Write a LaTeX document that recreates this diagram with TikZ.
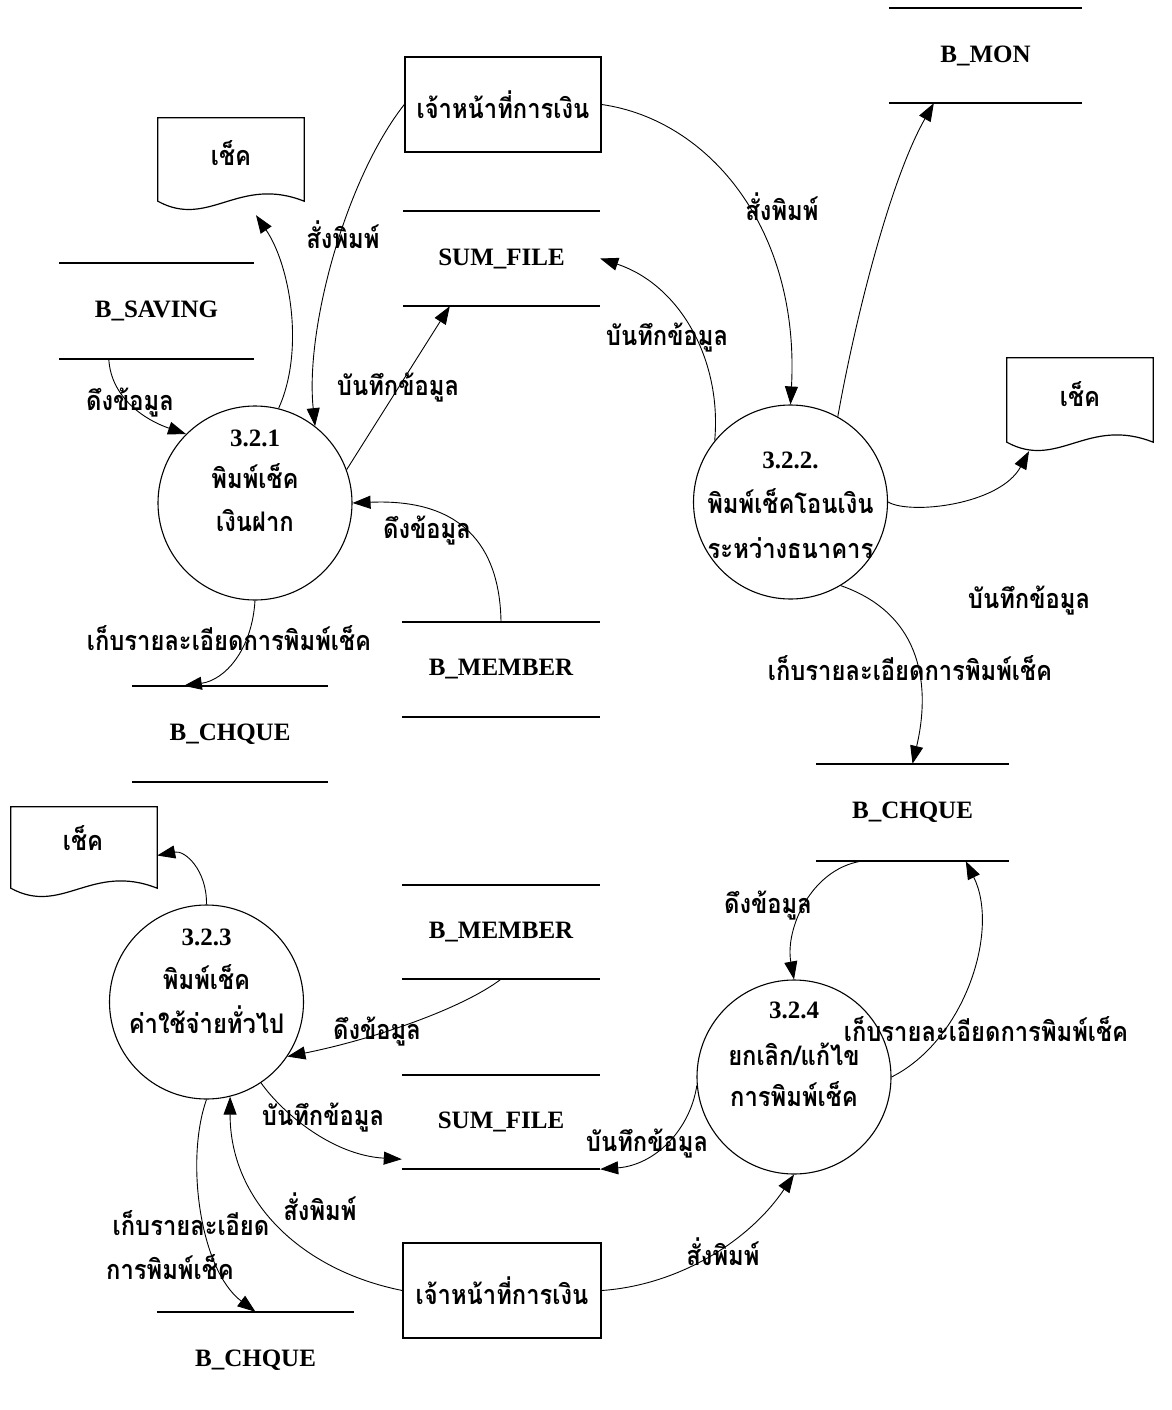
\documentclass[tikz,border=0pt]{standalone}
\usepackage{fontspec}
\setmainfont{Liberation Serif}
\newfontfamily\thai[Script=Thai, FakeStretch=0.88]{Loma}
\usetikzlibrary{arrows.meta}
% document symbol: box with a wavy lower edge, drawn round a named node
\newcommand\drawdoc[1]{\draw[line width=1.2pt] (#1.south west) -- (#1.north west) -- (#1.north east) -- (#1.south east) .. controls +(-65.7,-26) and +(51.1,28) .. (#1.south west) -- cycle;}
\begin{document}
\begin{tikzpicture}[x=1pt,y=-1pt,
  th/.style={font=\fontsize{27}{30}\selectfont\thai\bfseries, anchor=base, inner sep=0},
  la/.style={font=\fontsize{25}{28}\selectfont\bfseries, anchor=base, inner sep=0},
  proc/.style={circle, draw, line width=1.1pt, minimum size=194pt, inner sep=0},
  ent/.style={rectangle, draw, line width=1.4pt, inner sep=0, font=\fontsize{27}{30}\selectfont\thai\bfseries},
  store/.style={inner sep=0, font=\fontsize{25}{28}\selectfont\bfseries},
  stline/.style={line width=1.8pt},
  docbox/.style={inner sep=0},
  flow/.style={line width=0.9pt, -{Triangle[length=18pt,width=13pt]}},
]
\fill[white] (0,0) rectangle (1171,1410);
\useasboundingbox (0,0) rectangle (1171,1410);

% external entities
\node[ent, minimum width=196pt, minimum height=95pt] (ent1) at (503,104.5) {เจ้าหน้าที่การเงิน};
\node[ent, minimum width=198pt, minimum height=95pt] (ent2) at (502,1290.5) {เจ้าหน้าที่การเงิน};

% documents
\node[docbox, minimum width=146pt, minimum height=83pt] (doc1) at (231,159.5) {};
\node[docbox, minimum width=146pt, minimum height=84pt] (doc2) at (1080,400) {};
\node[docbox, minimum width=146pt, minimum height=81pt] (doc3) at (84,847.5) {};
\drawdoc{doc1}\drawdoc{doc2}\drawdoc{doc3}
\node[th] (doc1t) at (231,165) {เช็ค};
\node[th] (doc2t) at (1080,406) {เช็ค};
\node[th] (doc3t) at (83,850) {เช็ค};

% data stores
\node[store, minimum width=193pt, minimum height=95pt] (smon) at (985.5,55.5) {B\_MON};
\node[store, minimum width=195pt, minimum height=96pt] (ssav) at (156.5,311) {B\_SAVING};
\node[store, minimum width=197pt, minimum height=95pt] (ssumt) at (501.5,258.5) {SUM\_FILE};
\node[store, minimum width=198pt, minimum height=95pt] (smem1) at (501,669.5) {B\_MEMBER};
\node[store, minimum width=196pt, minimum height=96pt] (schq1) at (230,734) {B\_CHQUE};
\node[store, minimum width=193pt, minimum height=97pt] (schq2) at (912.5,812.5) {B\_CHQUE};
\node[store, minimum width=198pt, minimum height=94pt] (smem2) at (501,932) {B\_MEMBER};
\node[store, minimum width=198pt, minimum height=94pt] (ssumb) at (501,1122) {SUM\_FILE};
\node[store, minimum width=197pt, minimum height=96pt] (schq3) at (255.5,1360) {B\_CHQUE};
\foreach \s in {smon,ssav,ssumt,smem1,schq1,schq2,smem2,ssumb}
  \draw[stline] (\s.north west) -- (\s.north east) (\s.south west) -- (\s.south east);
\draw[stline] (schq3.north west) -- (schq3.north east);

% processes
\node[proc] (p1) at (255,503) {};
\node[proc] (p2) at (790.5,502) {};
\node[proc] (p3) at (206.5,1002) {};
\node[proc] (p4) at (794,1077) {};
\node[la] (p1a) at (255,446) {3.2.1};
\node[th] (p1b) at (255,488) {พิมพ์เช็ค};
\node[th] (p1c) at (255,531) {เงินฝาก};
\node[la] (p2a) at (790.5,468) {3.2.2.};
\node[th] (p2b) at (790.5,513) {พิมพ์เช็คโอนเงิน};
\node[th] (p2c) at (790.5,558) {ระหว่างธนาคาร};
\node[la] (p3a) at (206.5,945) {3.2.3};
\node[th] (p3b) at (206.5,989) {พิมพ์เช็ค};
\node[th] (p3c) at (206.5,1033) {ค่าใช้จ่ายทั่วไป};
\node[la] (p4a) at (794,1018) {3.2.4};
\node[th] (p4b) at (794,1065) {ยกเลิก/แก้ไข};
\node[th] (p4c) at (794,1106) {การพิมพ์เช็ค};

% flows of process 3.2.1
\draw[flow] ([xshift=50pt]ssav.south west) .. controls (111,398) and (145,420) .. (p1.135);
\draw[flow] (p1.76) .. controls (305,350) and (290,265) .. ([xshift=25pt,yshift=-14pt]doc1.south);
\draw[flow] (ent1.west) .. controls (345,180) and (305,330) .. (p1.52);
\draw[flow] (p1.20) -- ([xshift=47pt]ssumt.south west);
\draw[flow] (smem1.north) .. controls (500,555) and (470,498) .. (p1.east);
\draw[flow] (p1.south) .. controls (252,650) and (225,680) .. ([xshift=52pt]schq1.north west);

% flows of process 3.2.2
\draw[flow] (ent1.east) .. controls (710,120) and (800,230) .. (p2.north);
\draw[flow] (p2.61) .. controls (855,320) and (890,180) .. ([xshift=45pt]smon.south west);
\draw[flow] (p2.141) .. controls (722,360) and (680,285) .. (ssumt.east);
\draw[flow] (p2.east) .. controls (910,515) and (1000,505) .. ([xshift=-51pt,yshift=-9pt]doc2.south);
\draw[flow] (p2.301) .. controls (925,615) and (930,690) .. (schq2.north);

% flows of process 3.2.4
\draw[flow] ([xshift=45pt]schq2.south west) .. controls (810,870) and (785,930) .. (p4.north);
\draw[flow] (p4.east) .. controls (965,1040) and (1000,930) .. ([xshift=150pt]schq2.south west);
\draw[flow] (p4.185) .. controls (690,1130) and (655,1165) .. (ssumb.south east);
\draw[flow] (ent2.east) .. controls (680,1285) and (750,1240) .. (p4.south);

% flows of process 3.2.3
\draw[flow] (smem2.south) .. controls (460,1010) and (370,1040) .. (p3.-34);
\draw[flow] (p3.-56) .. controls (280,1110) and (330,1155) .. ([yshift=10pt]ssumb.south west);
\draw[flow] (ent2.west) .. controls (300,1270) and (230,1200) .. (p3.-76);
\draw[flow] (p3.south) .. controls (185,1160) and (200,1270) .. (schq3.north);
\draw[flow] (p3.north) .. controls (207,870) and (185,850) .. ([yshift=-8pt]doc3.east);

% flow labels
\node[th] (l1) at (130,410) {ดึงข้อมูล};
\node[th] (l2) at (343,248) {สั่งพิมพ์};
\node[th] (l3) at (398,395) {บันทึกข้อมูล};
\node[th] (l4) at (427,538) {ดึงข้อมูล};
\node[th] (l5) at (229,650) {เก็บรายละเอียดการพิมพ์เช็ค};
\node[th] (l6) at (782,220) {สั่งพิมพ์};
\node[th] (l7) at (667,345) {บันทึกข้อมูล};
\node[th] (l8) at (1029,608) {บันทึกข้อมูล};
\node[th] (l9) at (910,680) {เก็บรายละเอียดการพิมพ์เช็ค};
\node[th] (l10) at (768,913) {ดึงข้อมูล};
\node[th] (l11) at (986,1041) {เก็บรายละเอียดการพิมพ์เช็ค};
\node[th] (l12) at (377,1039) {ดึงข้อมูล};
\node[th] (l13) at (323,1125) {บันทึกข้อมูล};
\node[th] (l14) at (647,1151) {บันทึกข้อมูล};
\node[th] (l15) at (320,1220) {สั่งพิมพ์};
\node[th] (l16) at (723,1265) {สั่งพิมพ์};
\node[th] (l17) at (191,1235) {เก็บรายละเอียด};
\node[th] (l18) at (170,1279) {การพิมพ์เช็ค};
\end{tikzpicture}
\end{document}
